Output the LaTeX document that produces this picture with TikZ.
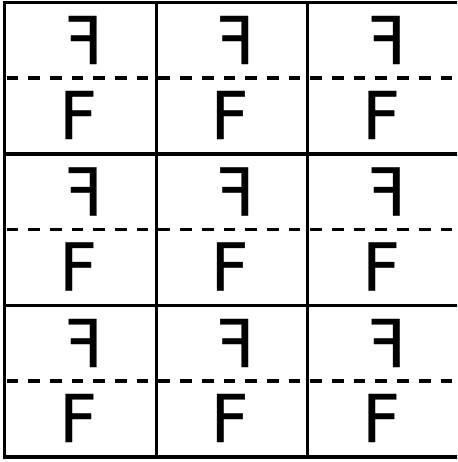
\documentclass[tikz,border=0pt]{standalone}
\usepackage{fontspec}
\newfontfamily\letterfont[FakeBold=0.5]{DejaVu Sans}

\tikzset{
  gridline/.style={line width=3.4pt,color=black},
  colline/.style={line width=3pt,color=black},
  halfline/.style={line width=3.2pt,color=black,dash pattern=on 11.7pt off 10pt},
  letter/.style={inner sep=0pt,font=\letterfont\fontsize{66}{66}\selectfont}
}

\begin{document}
\begin{tikzpicture}[x=1pt,y=-1pt]
\useasboundingbox (0,0) rectangle (457,462);
\clip (0,0) rectangle (457,462);

% frame and cells
\foreach \y in {2.5,154,305.5,457}
  \draw[gridline] (3,\y) -- (462,\y);
\draw[gridline] (4.5,1) -- (4.5,458.5);
\foreach \x in {156,307.5,459}
  \draw[colline] (\x,1) -- (\x,458.5);

% dashed half lines
\foreach \y in {78,229.5,381}
  \draw[halfline] (6.5,\y) -- (462,\y);

% letters
\foreach \c in {0,1,2}
  \foreach \r in {0,1,2} {
    \node[letter,xscale=-1] (m\c\r) at ({84+151.5*\c},{40+151.5*\r}) {F};
    \node[letter] (f\c\r) at ({78+151.5*\c},{115+151.5*\r}) {F};
  }

\end{tikzpicture}
\end{document}
